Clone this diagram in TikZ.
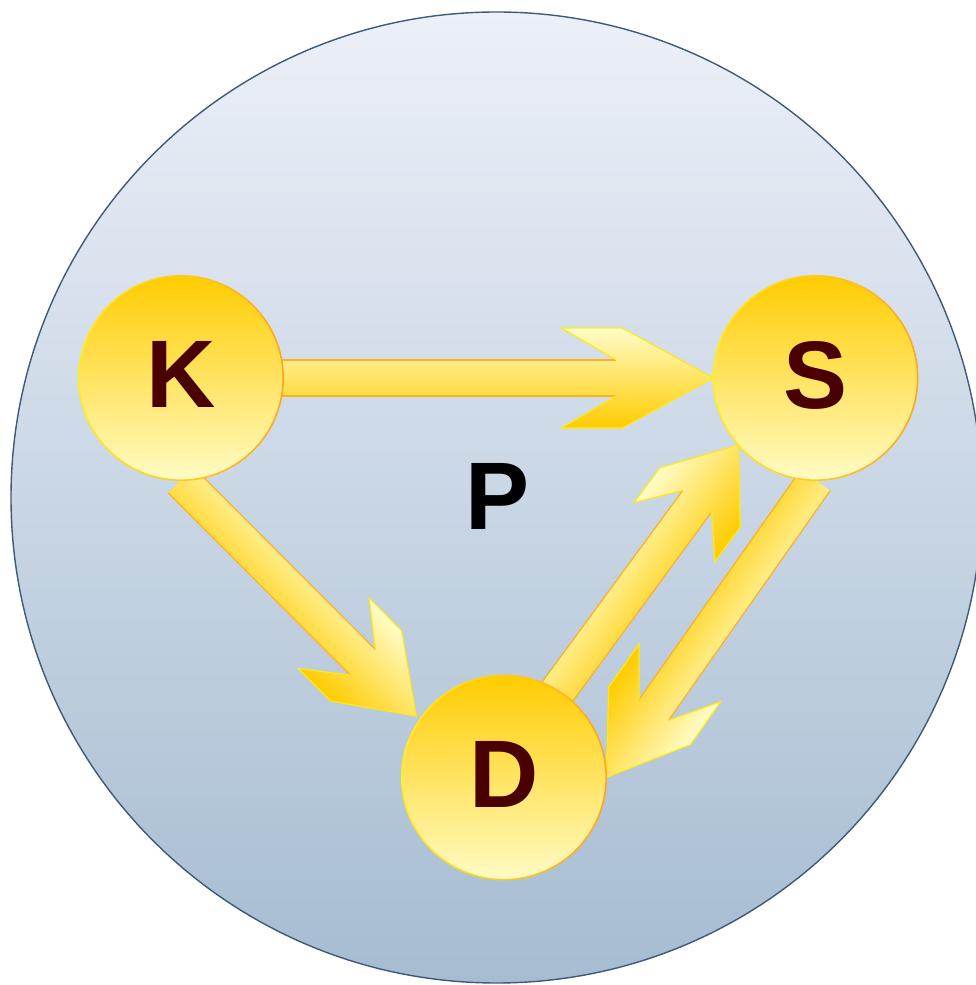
\documentclass[tikz,border=0pt]{standalone}
\usepackage{fontspec}
\setmainfont{Liberation Sans}
\usetikzlibrary{calc}
\definecolor{bgtop}{HTML}{ECF0F8}
\definecolor{bgbot}{HTML}{A6BCD1}
\definecolor{bgline}{HTML}{3D5A78}
\definecolor{ballTop}{HTML}{FFCC00}
\definecolor{ballBot}{HTML}{FFFBC4}
\definecolor{ringL}{HTML}{FFEE22}
\definecolor{ringR}{HTML}{FFA51F}
\definecolor{arrLight}{HTML}{FFFCC8}
\definecolor{arrDark}{HTML}{FFCC00}
\definecolor{shaftLine}{HTML}{FFB020}
\definecolor{headLine}{HTML}{FFE818}
\definecolor{letterCol}{HTML}{4A0000}
\pgfdeclarelayer{bglayer}
\pgfdeclarelayer{midlayer}
\pgfsetlayers{bglayer,midlayer,main}
\tikzset{
  bigfont/.style={font=\fontsize{96}{96}\selectfont\bfseries},
  ball/.style={circle, minimum size=204pt, inner sep=0pt, top color=ballTop,
    bottom color=ballBot, bigfont, text=letterCol, text depth=7pt},
  ringshade/.style={left color=ringL, right color=ringR, even odd rule},
  world/.style={circle, minimum size=971pt, inner sep=0pt, top color=bgtop,
    bottom color=bgbot, draw=bgline, line width=1.4pt},
  arrowfill/.style={top color=arrLight, bottom color=arrDark},
  shaftedge/.style={draw=shaftLine, line width=1.2pt},
  headedge/.style={draw=headLine, line width=1.2pt, line join=miter},
}
% #1 start, #2 tip, #3 tip->outer corner, #4 tip->barb, #5 tip->notch
\newcommand\fatarrow[5]{%
  \path (#1); \pgfgetlastxy{\fax}{\fay}%
  \path (#2); \pgfgetlastxy{\fbx}{\fby}%
  \pgfmathsetmacro\fang{atan2(\fby-\fay,\fbx-\fax)}%
  \pgfmathsetmacro\flen{veclen(\fbx-\fax,\fby-\fay)}%
  \begin{scope}[transform canvas={shift={(\fbx,\fby)},rotate=\fang}]
    \shade[arrowfill] (-\flen,18) -- (-#5,18) -- (-#4,50) -- (-#3,50) -- (0,0)
      -- (-#3,-50) -- (-#4,-50) -- (-#5,-18) -- (-\flen,-18) -- cycle;
    \path[shaftedge] (-\flen,18) -- (-#5,18) (-\flen,-18) -- (-#5,-18);
    \path[headedge] (-#5,18) -- (-#4,50) -- (-#3,50) -- (0,0) -- (-#3,-50)
      -- (-#4,-50) -- (-#5,-18);
  \end{scope}%
}
\begin{document}
\begin{tikzpicture}[x=1pt,y=1pt]
\useasboundingbox (0,0) rectangle (976,985);
\begin{pgfonlayer}{bglayer}
  \node[world] (W) at (496.5,487.5) {};
\end{pgfonlayer}
\node[ball] (K) at (181,607) {K};
\node[ball] (S) at (815.5,607) {S};
\node[ball] (D) at (504,207.5) {D};
\foreach \n in {K,S,D}
  \shade[ringshade] (\n.center) circle[radius=103] (\n.center) circle[radius=101.4];
\node[bigfont, text=black, inner sep=0pt] (P) at (497.5,488.5) {P};
\coordinate (ks0) at ($(K.center)+(19,0)$);
\coordinate (ks1) at (S.west);
\coordinate (kd0) at (K.south);
\coordinate (kd1) at ($(D.center)+(145:107)$);
\coordinate (ds0) at ($(D.center)+(58.7:89)$);
\coordinate (ds1) at (S.221);
\coordinate (sd0) at (S.south);
\coordinate (sd1) at (D.east);
\begin{pgfonlayer}{midlayer}
  \fatarrow{ks0}{ks1}{91}{152}{97}
  \fatarrow{kd0}{kd1}{71}{117}{76}
  \fatarrow{ds0}{ds1}{65}{108}{69.5}
  \fatarrow{sd0}{sd1}{75.5}{128}{82.5}
\end{pgfonlayer}
\end{tikzpicture}
\end{document}
